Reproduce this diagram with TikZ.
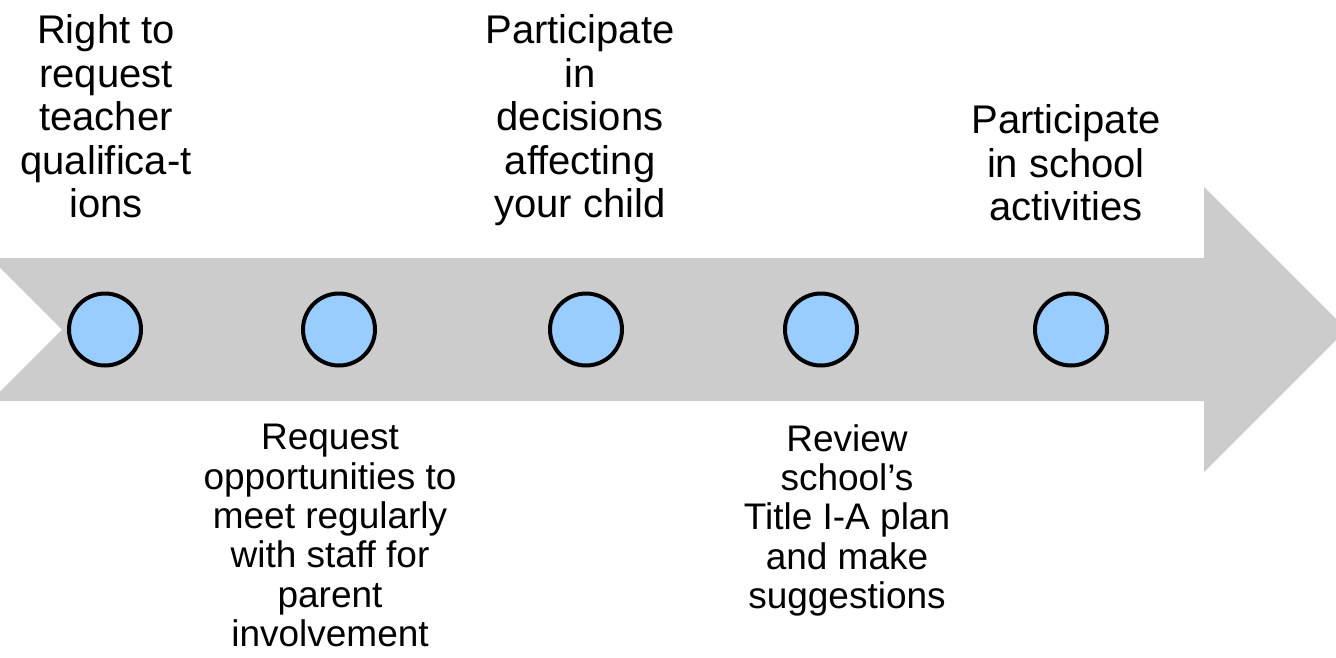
\documentclass[tikz,border=0pt]{standalone}
\usepackage{fontspec}
\setmainfont{Liberation Sans}
\definecolor{bandgray}{HTML}{CCCCCC}
\definecolor{dotblue}{HTML}{99CCFF}
\tikzset{
  dot/.style={circle, draw=black, fill=dotblue, line width=4pt, minimum size=72pt, inner sep=0pt},
  toplabel/.style={anchor=north, align=center, inner sep=0pt, font=\fontsize{40}{43.5}\selectfont},
  botlabel/.style={anchor=north, align=center, inner sep=0pt, font=\fontsize{37}{39.4}\selectfont}
}
\begin{document}
\begin{tikzpicture}[x=1pt, y=-1pt]
\useasboundingbox (0,0) rectangle (1336,657);
\begin{scope}
\clip (0,0) rectangle (1336,657);
\fill[bandgray] (0,258) -- (1204,258) -- (1204,187) -- (1346.5,329.5) -- (1204,472) -- (1204,401) -- (0,401) -- (0,391.5) -- (62,329.5) -- (0,267.5) -- cycle;
\end{scope}
\node[dot] (c1) at (105,329.5) {};
\node[dot] (c2) at (339,329.5) {};
\node[dot] (c3) at (586,329.5) {};
\node[dot] (c4) at (821,329.5) {};
\node[dot] (c5) at (1071,329.5) {};
\node[toplabel] (t1) at (106,14.4) {Right to\\request\\teacher\\qualifica-t\\ions};
\node[toplabel] (t3) at (580,14.4) {Participate\\in\\decisions\\affecting\\your child};
\node[toplabel] (t5) at (1066,104.4) {Participate\\in school\\activities};
\node[botlabel] (b2) at (330,424) {Request\\opportunities to\\meet regularly\\with staff for\\parent\\involvement};
\node[botlabel] (b4) at (847,424) {Review\\school’s\\Title I-A plan\\and make\\suggestions};
\end{tikzpicture}
\end{document}
